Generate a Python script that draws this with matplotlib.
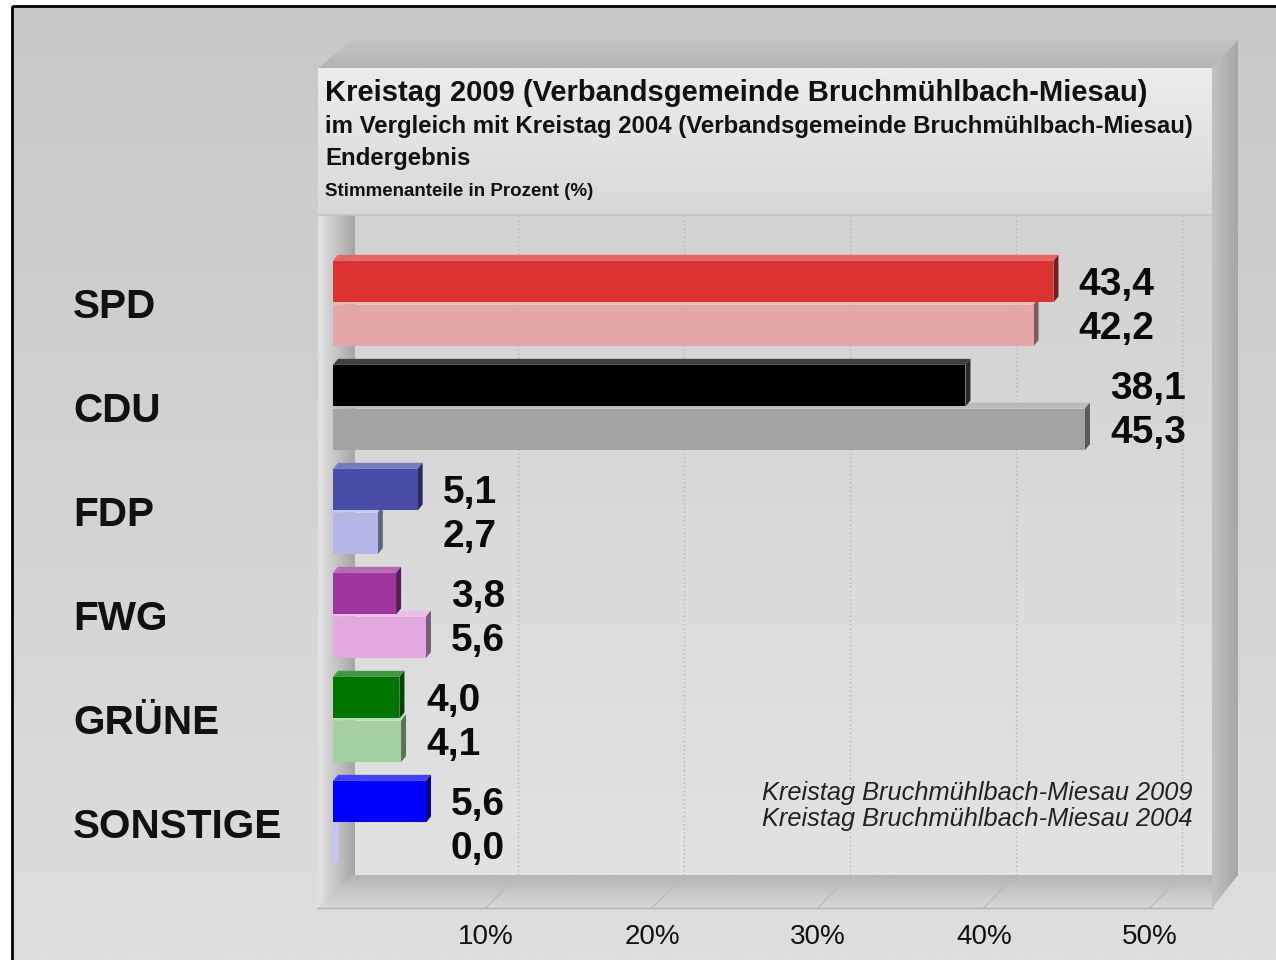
import numpy as np
import matplotlib.pyplot as plt
from matplotlib.patches import Polygon, Rectangle
from matplotlib.colors import to_rgb
from matplotlib.transforms import blended_transform_factory

plt.rcParams['font.family'] = ['Liberation Sans', 'DejaVu Sans']

# data
parties = ["SPD", "CDU", "FDP", "FWG", "GRÜNE", "SONSTIGE"]
votes_2009 = [43.4, 38.1, 5.1, 3.8, 4.0, 5.6]
votes_2004 = [42.2, 45.3, 2.7, 5.6, 4.1, 0.0]
colors_2009 = ["#dd3232", "#000000", "#484ea8", "#a0359e", "#007500", "#0000ff"]
colors_2004 = ["#e4a6a6", "#a3a3a3", "#b3b6e6", "#e3a8e0", "#a2d0a2", "#c4c4ff"]
ticks = [10, 20, 30, 40, 50]
tick_labels = ["10%", "20%", "30%", "40%", "50%"]
title_lines = ["Kreistag 2009 (Verbandsgemeinde Bruchmühlbach-Miesau)",
               "im Vergleich mit Kreistag 2004 (Verbandsgemeinde Bruchmühlbach-Miesau)",
               "Endergebnis",
               "Stimmenanteile in Prozent (%)"]
legend_lines = ["Kreistag Bruchmühlbach-Miesau 2009",
                "Kreistag Bruchmühlbach-Miesau 2004"]

W, H = 1276, 960
fig = plt.figure(figsize=(W / 100, H / 100), dpi=100)
fig.patch.set_facecolor("white")

# background layer in pixel coordinates
bg = fig.add_axes([0, 0, 1, 1])
bg.set_xlim(0, W)
bg.set_ylim(H, 0)
bg.axis("off")


def grad(x0, x1, y0, y1, c0, c1, vertical=True, clip=None):
    c0, c1 = np.array(to_rgb(c0)), np.array(to_rgb(c1))
    t = np.linspace(0, 1, 64)
    arr = c0[None, :] * (1 - t[:, None]) + c1[None, :] * t[:, None]
    arr = arr[:, None, :] if vertical else arr[None, :, :]
    im = bg.imshow(arr, extent=(x0, x1, y1, y0), origin="upper",
                   aspect="auto", interpolation="bilinear", zorder=1)
    if clip is not None:
        patch = Polygon(clip, closed=True, transform=bg.transData)
        im.set_clip_path(patch)
    return im


# outer frame
grad(12, W + 5, 6, H + 5, "#c8c8c8", "#dedede")
bg.add_patch(Rectangle((12, 6), W, H, fill=False, ec="black", lw=2, zorder=2))

# 3d panel
grad(318, 1238, 40, 68, "#c4c4c4", "#b4b4b4",
     clip=[(318, 68), (352, 40), (1238, 40), (1212, 68)])
grad(1212, 1238, 40, 908, "#c2c2c2", "#a6a6a6", vertical=False,
     clip=[(1212, 68), (1238, 40), (1238, 875), (1212, 908)])
grad(318, 1212, 68, 215, "#ececec", "#d8d8d8")
bg.plot([318, 1212], [215, 215], color="#c4c4c4", lw=1.2, zorder=2)
grad(355, 1212, 215, 875, "#d2d2d2", "#e2e2e2")
grad(318, 356, 215, 908, "#e2e2e2", "#a4a4a4", vertical=False,
     clip=[(318, 215), (355, 215), (355, 875), (318, 908)])
grad(318, 1212, 875, 908, "#b4b4b4", "#d8d8d8",
     clip=[(318, 908), (352, 875), (1212, 875), (1212, 908)])
bg.plot([318, 1212], [908, 908], color="#b0b0b0", lw=1, zorder=2)

title_sizes = [21, 17.3, 17.3, 13.5]
title_y = [93, 127, 159, 191]
for txt, s, y in zip(title_lines, title_sizes, title_y):
    bg.text(325, y, txt, fontsize=s, fontweight="bold", color="#111111",
            va="center", ha="left", zorder=3)

# data axes over the plot region (front plane zero at x=333 px)
px_per_pct = 16.6
grp_px = 104.0
ax = fig.add_axes([318 / W, (H - 908) / H, (1212 - 318) / W, (908 - 215) / H])
ax.set_xlim(-15 / px_per_pct, (1212 - 333) / px_per_pct)
ax.set_ylim((908 - 304) / grp_px, (215 - 304) / grp_px)
ax.axis("off")
ax.patch.set_visible(False)

back_dx = 19 / px_per_pct
floor_dx = -13 / px_per_pct
y_back = (875 - 304) / grp_px
y_front = (908 - 304) / grp_px
y_top = (215 - 304) / grp_px

for t, lab in zip(ticks, tick_labels):
    ax.plot([t + back_dx] * 2, [y_back, y_top], ls=(0, (1, 2)), color="#b4b4b4", lw=1, zorder=1)
    ax.plot([t + back_dx, t + floor_dx], [y_back, y_front], color="#b8b8b8", lw=0.8, zorder=1)
    ax.text(t + floor_dx, (937 - 304) / grp_px, lab, fontsize=20, color="#111111",
            ha="center", va="center", clip_on=False)


def shade(c, f):
    c = np.array(to_rgb(c))
    if f >= 0:
        return tuple(c + (1 - c) * f)
    return tuple(c * (1 + f))


bar_h = 0.40
dx = 5 / px_per_pct
dy = 6 / grp_px
y = np.arange(len(parties))


def bar3d(v, yc, col):
    y0, y1 = yc - bar_h / 2, yc + bar_h / 2
    top = shade(col, 0.25) if col != "#000000" else "#404040"
    side = shade(col, -0.45) if col != "#000000" else "#2a2a2a"
    if v == 0:
        side = col
    ax.add_patch(Polygon([(0, y0), (dx, y0 - dy), (v + dx, y0 - dy), (v, y0)],
                         closed=True, fc=top, ec="none", zorder=3))
    ax.add_patch(Polygon([(v, y0), (v + dx, y0 - dy), (v + dx, y1 - dy), (v, y1)],
                         closed=True, fc=side, ec="none", zorder=3))
    ax.barh(yc, v, height=bar_h, left=0, color=col, zorder=4)


for i in range(len(parties)):
    bar3d(votes_2004[i], y[i] + 0.205, colors_2004[i])
    bar3d(votes_2009[i], y[i] - 0.215, colors_2009[i])

    lx = max(votes_2009[i], votes_2004[i]) + 25 / px_per_pct
    for v, yc in [(votes_2009[i], y[i] - 0.215), (votes_2004[i], y[i] + 0.205)]:
        ax.text(lx, yc + 0.035, f"{v:.1f}".replace(".", ","), fontsize=28, fontweight="bold",
                color="#0a0a0a", ha="left", va="center", zorder=5)

trans = blended_transform_factory(fig.transFigure, ax.transData)
for i, p in enumerate(parties):
    ax.text(73 / W, y[i] + 0.03, p, transform=trans, fontsize=29.2, fontweight="bold",
            color="#111111", ha="left", va="center")

ax.text((1193 - 318) / 894, 1 - (793 - 215) / 693, legend_lines[0], transform=ax.transAxes,
        fontsize=18.3, style="italic", color="#222222", ha="right", va="center")
ax.text((1193 - 318) / 894, 1 - (819 - 215) / 693, legend_lines[1], transform=ax.transAxes,
        fontsize=18.3, style="italic", color="#222222", ha="right", va="center")

fig.savefig("out.png", dpi=100)
